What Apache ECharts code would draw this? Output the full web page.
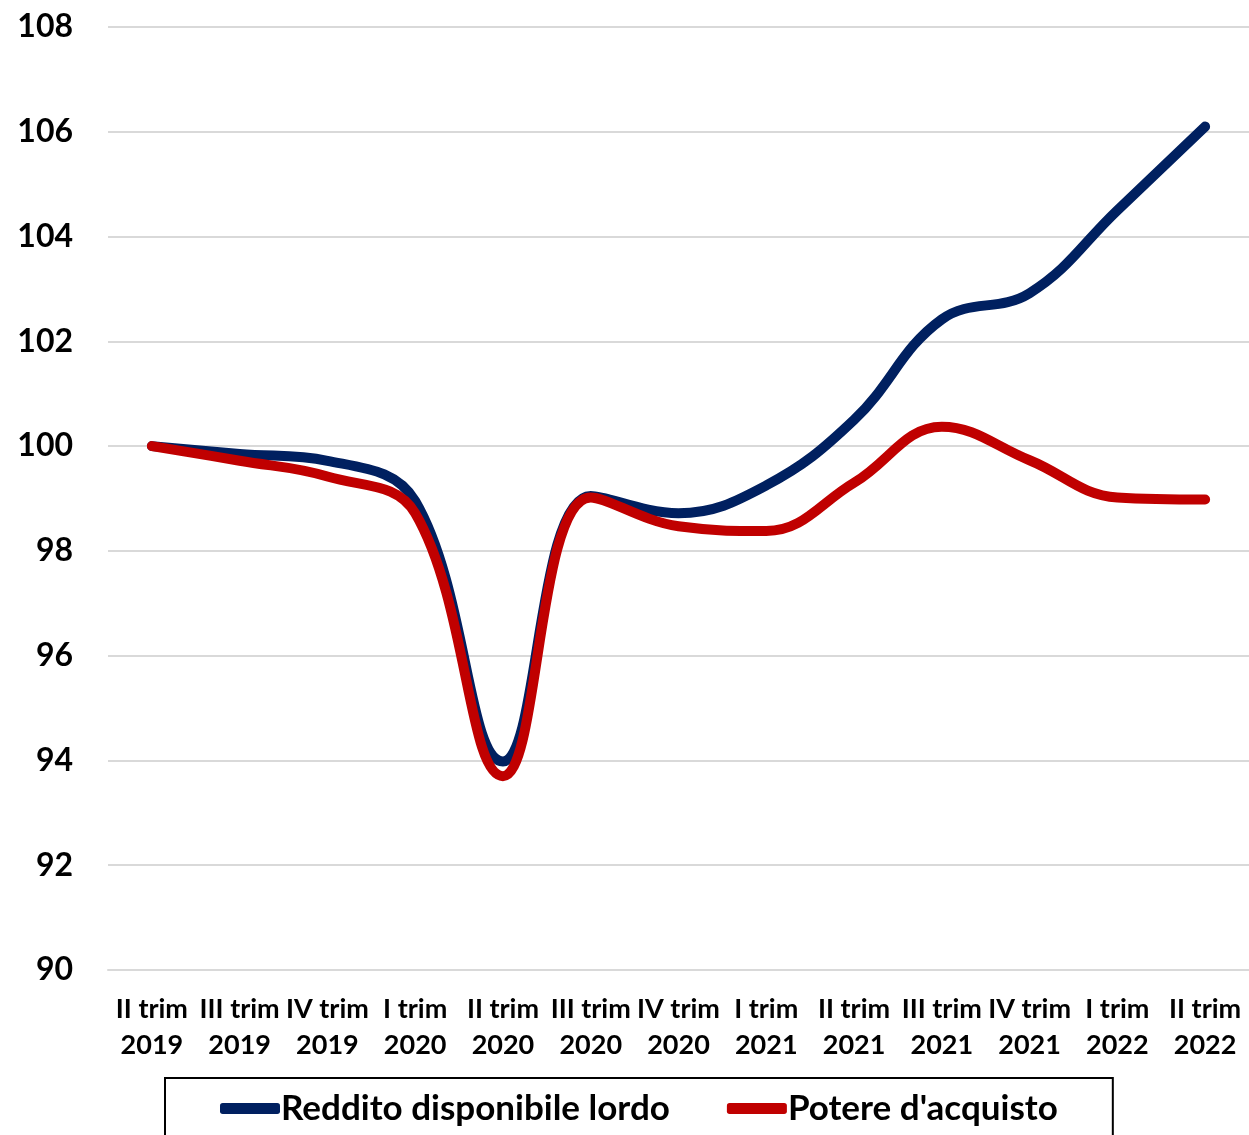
<!DOCTYPE html>
<html>
<head>
<meta charset="utf-8">
<script src="https://cdn.jsdelivr.net/npm/echarts@6/dist/echarts.min.js"></script>
<style>
html,body{margin:0;padding:0;background:#fff;}
#chart{width:1249px;height:1135px;}
</style>
</head>
<body>
<div id="chart"></div>
<script>
const categories = ["II trim\n2019","III trim\n2019","IV trim\n2019","I trim\n2020","II trim\n2020","III trim\n2020","IV trim\n2020","I trim\n2021","II trim\n2021","III trim\n2021","IV trim\n2021","I trim\n2022","II trim\n2022"];
const redditoLordo = [100, 99.85, 99.72, 98.95, 93.98, 99.05, 98.72, 99.25, 100.5, 102.42, 102.92, 104.5, 106.1];
const potereAcquisto = [100, 99.72, 99.42, 98.72, 93.7, 99.02, 98.47, 98.38, 99.3, 100.37, 99.73, 99.02, 98.98];
const yTicks = {min: 90, max: 108, interval: 2};

const FONT = 'Lato';
const chart = echarts.init(document.getElementById('chart'));
chart.setOption({
  animation: false,
  backgroundColor: '#fff',
  grid: {left: 108, right: 0, top: 27, bottom: 165},
  xAxis: {
    type: 'category',
    data: categories,
    boundaryGap: true,
    axisLine: {show: true, lineStyle: {color: '#d9d9d9', width: 2}},
    axisTick: {show: false},
    axisLabel: {color: '#000', fontFamily: FONT, fontWeight: 'bold', fontSize: 27, lineHeight: 36, margin: 21, interval: 0}
  },
  yAxis: {
    type: 'value',
    min: yTicks.min, max: yTicks.max, interval: yTicks.interval,
    axisLine: {show: false},
    axisTick: {show: false},
    splitLine: {lineStyle: {color: '#d9d9d9', width: 2}},
    axisLabel: {color: '#000', fontFamily: FONT, fontWeight: 'bold', fontSize: 32, margin: 35}
  },
  legend: {
    left: 165, top: 1078,
    padding: [13, 55, 30, 55],
    borderColor: '#000', borderWidth: 2,
    itemWidth: 60, itemHeight: 11, itemGap: 57,
    icon: 'roundRect',
    textStyle: {color: '#000', fontFamily: FONT, fontWeight: 'bold', fontSize: 35, padding: [0,0,0,-4]},
    data: ['Reddito disponibile lordo', "Potere d'acquisto"]
  },
  series: [
    {name: 'Reddito disponibile lordo', type: 'line', data: redditoLordo, smooth: 0.4, symbol: 'none',
     itemStyle: {color: '#002060'}, lineStyle: {color: '#002060', width: 10, cap: 'round', join: 'round'}},
    {name: "Potere d'acquisto", type: 'line', data: potereAcquisto, smooth: 0.4, symbol: 'none',
     itemStyle: {color: '#C00000'}, lineStyle: {color: '#C00000', width: 10, cap: 'round', join: 'round'}}
  ]
});
</script>
</body>
</html>
